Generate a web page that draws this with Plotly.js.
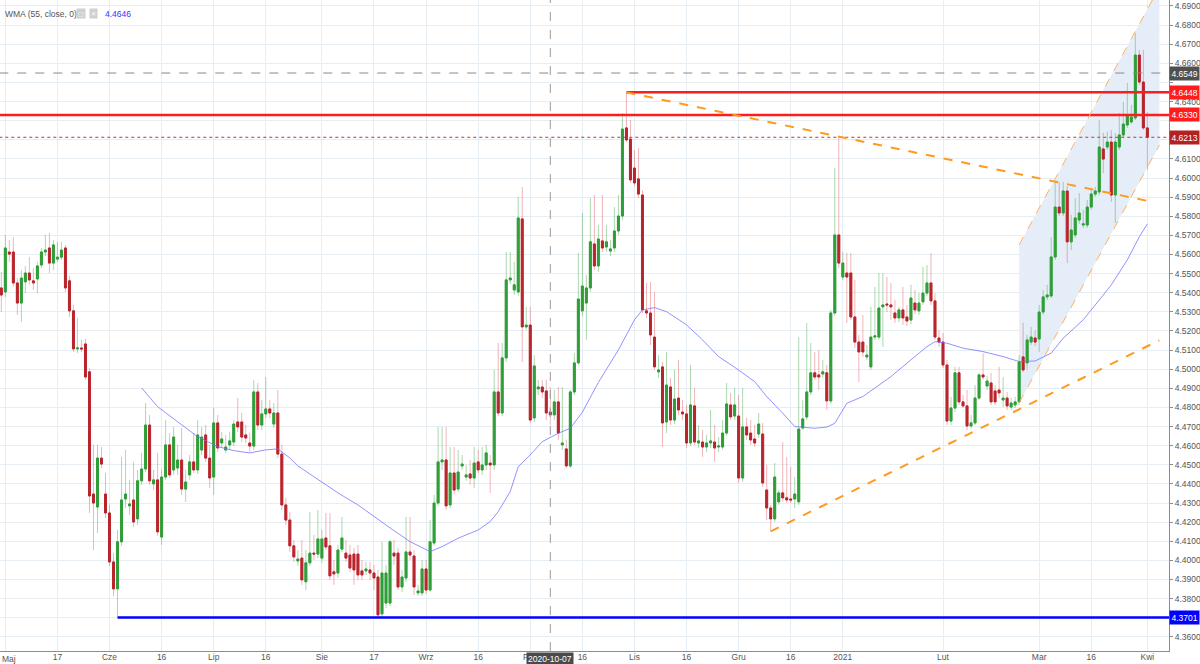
<!DOCTYPE html>
<html><head><meta charset="utf-8">
<script src="https://cdn.plot.ly/plotly-3.0.1.min.js"></script>
<style>html,body{margin:0;padding:0;background:#fff}#chart{width:1200px;height:664px}</style>
</head><body><div id="chart"></div>
<script>
// ---------- DATA ----------
const firstDay = '2020-04-30';
const lastDay = '2021-04-07';           // includes a few future (empty) days for drawings
const closedDays = ['2020-12-25', '2021-01-01'];

const open = [
4.5425,4.5404,4.5613,4.5613,4.5451,4.5346,4.5457,4.5503,4.5462,4.5472,
4.5545,4.5613,4.5634,4.5555,4.5576,4.5586,4.5634,4.5462,4.5305,4.5106,
4.5111,4.5132,4.4986,4.4347,4.4279,4.4535,4.4347,4.4248,4.3992,4.3851,
4.4097,4.4321,4.4285,4.4316,4.4217,4.4416,4.4478,4.4708,4.4400,4.4421,
4.4122,4.4436,4.4604,4.4473,4.4483,4.4525,4.4373,4.4447,4.4515,4.4473,
4.4577,4.4656,4.4535,4.4436,4.4719,4.4614,4.4577,4.4604,4.4619,4.4724,
4.4724,4.4656,4.4614,4.4598,4.4881,4.4708,4.4766,4.4792,4.4713,4.4771,
4.4556,4.4290,4.4211,4.4076,4.3997,4.4012,4.3888,4.3987,4.4038,4.4033,
4.4012,4.4117,4.4076,4.3940,4.3934,4.4059,4.4038,4.4028,4.4033,4.4033,
4.3945,4.3945,4.3950,4.3934,4.3913,4.3720,4.3777,4.3777,4.4038,4.4038,
4.3861,4.3908,4.4044,4.4023,4.3830,4.3830,4.3955,4.3845,4.4091,4.4300,
4.4515,4.4525,4.4290,4.4457,4.4373,4.4494,4.4436,4.4452,4.4431,4.4515,
4.4473,4.4499,4.4509,4.4499,4.4881,4.4771,4.5059,4.5467,4.5414,4.5404,
4.5786,4.5221,4.5231,4.4745,4.4897,4.4907,4.4886,4.4776,4.4761,4.4829,
4.4604,4.4583,4.4494,4.4881,4.5033,4.5305,4.5346,4.5425,4.5655,4.5540,
4.5671,4.5639,4.5618,4.5634,4.5723,4.5801,4.6262,4.6204,4.6052,4.5995,
4.5911,4.5305,4.5294,4.5168,4.4986,4.5012,4.4724,4.4907,4.4734,4.4849,
4.4776,4.4766,4.4614,4.4808,4.4614,4.4619,4.4593,4.4614,4.4619,4.4593,
4.4593,4.4666,4.4813,4.4755,4.4755,4.4431,4.4698,4.4666,4.4635,4.4661,
4.4661,4.4368,4.4274,4.4217,4.4306,4.4353,4.4327,4.4321,4.4321,4.4306,
4.4692,4.4750,4.4881,4.4981,4.4970,4.4975,4.4981,4.4834,4.5294,4.5702,
4.5482,4.5503,4.5503,4.5273,4.5142,4.5142,4.5064,4.5012,4.5168,4.5168,
4.5326,4.5341,4.5336,4.5294,4.5268,4.5310,4.5273,4.5257,4.5346,4.5305,
4.5352,4.5398,4.5451,4.5357,4.5163,4.5142,4.5022,4.4729,4.4797,4.4981,
4.4829,4.4808,4.4703,4.4719,4.4849,4.4970,4.4912,4.4928,4.4886,4.4891,
4.4839,4.4849,4.4802,4.4813,4.4829,4.5064,4.5033,4.5142,4.5163,4.5158,
4.5299,4.5378,4.5383,4.5587,4.5848,4.5817,4.5932,4.5666,4.5702,4.5780,
4.5754,4.5754,4.5848,4.5916,4.5927,4.6152,4.6162,4.6188,4.5911,4.6162,
4.6225,4.6277,4.6293,4.6314,4.6643,4.6502,4.6262];

const high = [
4.5509,4.5702,4.5676,4.5691,4.5477,4.5519,4.5540,4.5586,4.5529,4.5561,
4.5634,4.5702,4.5712,4.5676,4.5666,4.5666,4.5650,4.5488,4.5336,4.5268,
4.5153,4.5158,4.5006,4.4604,4.4604,4.4593,4.4457,4.4290,4.4038,4.4159,
4.4541,4.4577,4.4421,4.4515,4.4473,4.4562,4.4823,4.4761,4.4473,4.4562,
4.4473,4.4734,4.4666,4.4698,4.4604,4.4692,4.4473,4.4551,4.4666,4.4734,
4.4698,4.4708,4.4604,4.4797,4.4761,4.4671,4.4656,4.4671,4.4734,4.4849,
4.4771,4.4708,4.4666,4.4944,4.4928,4.4839,4.4959,4.4839,4.4823,4.4891,
4.4604,4.4327,4.4253,4.4107,4.4054,4.4107,4.4054,4.4253,4.4133,4.4264,
4.4159,4.4248,4.4248,4.4002,4.4081,4.4227,4.4107,4.4081,4.4065,4.4081,
4.4002,4.3992,4.3992,4.3976,4.3950,4.4097,4.3976,4.4107,4.4107,4.4065,
4.3950,4.4227,4.4227,4.4054,4.3872,4.4002,4.4002,4.4211,4.4342,4.4698,
4.4698,4.4698,4.4593,4.4593,4.4577,4.4551,4.4499,4.4525,4.4593,4.4577,
4.4593,4.4604,4.4551,4.4996,4.5137,4.5137,4.5613,4.5613,4.5561,4.5901,
4.5953,4.5326,4.5326,4.5074,4.4944,4.4944,4.4944,4.4907,4.4891,4.4907,
4.4907,4.4630,4.4891,4.5084,4.5608,4.5817,4.5493,4.5895,4.5911,4.5754,
4.5911,4.5754,4.5676,4.5848,4.5911,4.6340,4.6448,4.6303,4.6146,4.6157,
4.5937,4.5451,4.5456,4.5404,4.5074,4.5038,4.5090,4.4954,4.4996,4.5048,
4.4839,4.4813,4.5022,4.4902,4.4708,4.4682,4.4656,4.4787,4.4708,4.4645,
4.4734,4.4928,4.4876,4.4902,4.4865,4.4902,4.4745,4.4734,4.4708,4.4771,
4.4719,4.4499,4.4290,4.4509,4.4368,4.4619,4.4541,4.4489,4.4436,4.5168,
4.4839,4.5242,4.5137,4.5090,4.5100,4.5048,4.5022,4.5310,4.6052,4.6213,
4.5613,4.5608,4.5608,4.5467,4.5179,4.5284,4.5127,4.5326,4.5430,4.5503,
4.5503,4.5482,4.5451,4.5362,4.5326,4.5430,4.5336,4.5441,4.5414,4.5398,
4.5535,4.5545,4.5608,4.5398,4.5205,4.5189,4.5048,4.4855,4.5012,4.5012,
4.4865,4.4891,4.4761,4.4917,4.4981,4.5084,4.4965,4.4981,4.4917,4.5012,
4.4959,4.4881,4.4849,4.4855,4.5074,4.5242,4.5179,4.5221,4.5205,4.5336,
4.5414,4.5441,4.5691,4.5979,4.5979,4.5979,4.5958,4.5807,4.5895,4.5921,
4.5833,4.5885,4.5948,4.5953,4.6303,4.6236,4.6241,4.6251,4.6235,4.6340,
4.6398,4.6497,4.6382,4.6758,4.6670,4.6670,4.6345];

const low = [
4.5300,4.5377,4.5561,4.5430,4.5284,4.5247,4.5398,4.5441,4.5414,4.5398,
4.5529,4.5592,4.5503,4.5519,4.5561,4.5571,4.5404,4.5273,4.5090,4.5084,
4.5090,4.4944,4.4248,4.4054,4.4143,4.4483,4.4222,4.3971,4.3814,4.3701,
4.4076,4.4274,4.4238,4.4175,4.4185,4.4395,4.4463,4.4395,4.4368,4.4128,
4.4081,4.4421,4.4431,4.4447,4.4447,4.4342,4.4306,4.4421,4.4457,4.4452,
4.4551,4.4515,4.4379,4.4342,4.4567,4.4588,4.4562,4.4577,4.4598,4.4671,
4.4619,4.4614,4.4567,4.4577,4.4682,4.4682,4.4745,4.4745,4.4692,4.4535,
4.4264,4.4185,4.4044,4.3992,4.3971,4.3872,4.3845,4.3971,4.4002,4.4012,
4.3987,4.4054,4.3898,4.3872,4.3908,4.4044,4.3992,4.3940,4.3872,4.3898,
4.3898,4.3924,4.3898,4.3845,4.3704,4.3704,4.3751,4.3762,4.3976,4.3845,
4.3835,4.3887,4.4002,4.3819,4.3814,4.3814,4.3824,4.3835,4.4076,4.4285,
4.4473,4.4264,4.4274,4.4347,4.4358,4.4473,4.4416,4.4395,4.4379,4.4457,
4.4447,4.4473,4.4353,4.4473,4.4755,4.4755,4.5038,4.5446,4.5388,4.5383,
4.5038,4.5205,4.4719,4.4724,4.4865,4.4849,4.4734,4.4708,4.4734,4.4630,
4.4577,4.4483,4.4483,4.4865,4.5022,4.5279,4.5153,4.5404,4.5519,4.5509,
4.5613,4.5613,4.5592,4.5613,4.5702,4.5780,4.6188,4.5974,4.5958,4.5895,
4.5294,4.5268,4.5127,4.4996,4.4954,4.4593,4.4666,4.4708,4.4713,4.4761,
4.4734,4.4588,4.4598,4.4604,4.4588,4.4541,4.4567,4.4588,4.4515,4.4567,
4.4577,4.4651,4.4734,4.4734,4.4405,4.4410,4.4630,4.4604,4.4593,4.4640,
4.4384,4.4211,4.4152,4.4201,4.4290,4.4306,4.4300,4.4300,4.4274,4.4290,
4.4682,4.4734,4.4865,4.4944,4.4891,4.4954,4.4787,4.4818,4.5279,4.5529,
4.5467,4.5242,4.5257,4.5111,4.4933,4.5064,4.5048,4.4996,4.5153,4.5153,
4.5116,4.5299,4.5257,4.5242,4.5247,4.5231,4.5226,4.5236,4.5289,4.5284,
4.5336,4.5383,4.5336,4.5153,4.5116,4.5006,4.4708,4.4708,4.4776,4.4813,
4.4797,4.4682,4.4692,4.4708,4.4839,4.4944,4.4891,4.4813,4.4813,4.4849,
4.4802,4.4787,4.4787,4.4797,4.4813,4.4986,4.4996,4.5127,4.5121,4.5090,
4.5284,4.5362,4.5373,4.5571,4.5801,4.5801,4.5555,4.5623,4.5686,4.5760,
4.5739,4.5739,4.5833,4.5901,4.5911,4.6026,4.6146,4.5875,4.5765,4.6146,
4.6209,4.6262,4.6283,4.6303,4.6486,4.6251,4.6042];

const close = [
4.5388,4.5634,4.5602,4.5451,4.5346,4.5477,4.5503,4.5467,4.5451,4.5540,
4.5613,4.5623,4.5555,4.5650,4.5586,4.5623,4.5425,4.5305,4.5106,4.5111,
4.5106,4.4959,4.4337,4.4300,4.4535,4.4504,4.4248,4.3992,4.3851,4.4097,
4.4316,4.4347,4.4295,4.4201,4.4416,4.4478,4.4708,4.4416,4.4421,4.4149,
4.4436,4.4604,4.4447,4.4645,4.4525,4.4373,4.4410,4.4515,4.4473,4.4656,
4.4645,4.4535,4.4431,4.4719,4.4588,4.4635,4.4593,4.4625,4.4713,4.4698,
4.4645,4.4640,4.4598,4.4881,4.4708,4.4766,4.4792,4.4771,4.4771,4.4556,
4.4290,4.4211,4.4076,4.4018,4.4007,4.3898,4.3987,4.4038,4.4033,4.4112,
4.4112,4.4070,4.3919,4.3929,4.4054,4.4117,4.4012,4.3960,4.3950,4.3924,
4.3924,4.3955,4.3934,4.3908,4.3715,4.3934,4.3934,4.4097,4.4023,4.3861,
4.3913,4.4044,4.4028,4.3861,4.3840,4.3955,4.3845,4.4097,4.4300,4.4515,
4.4525,4.4285,4.4457,4.4368,4.4462,4.4504,4.4447,4.4431,4.4509,4.4473,
4.4499,4.4562,4.4499,4.4881,4.4771,4.5059,4.5467,4.5477,4.5441,4.5791,
4.5221,4.5231,4.4734,4.5017,4.4907,4.4881,4.4771,4.4761,4.4829,4.4666,
4.4614,4.4494,4.4881,4.5033,4.5367,4.5435,4.5425,4.5666,4.5540,4.5681,
4.5634,4.5666,4.5629,4.5723,4.5801,4.6256,4.6199,4.5990,4.5974,4.5916,
4.5310,4.5294,4.5179,4.5012,4.4996,4.4719,4.4917,4.4734,4.4844,4.4787,
4.4766,4.4614,4.4813,4.4619,4.4625,4.4593,4.4614,4.4625,4.4588,4.4598,
4.4666,4.4818,4.4750,4.4813,4.4431,4.4698,4.4656,4.4630,4.4614,4.4713,
4.4405,4.4274,4.4217,4.4436,4.4353,4.4327,4.4316,4.4316,4.4347,4.4687,
4.4740,4.4881,4.4981,4.4959,4.4959,4.4986,4.4834,4.5294,4.5702,4.5555,
4.5555,4.5482,4.5273,4.5142,4.5090,4.5090,4.5074,4.5168,4.5174,4.5320,
4.5336,4.5336,4.5326,4.5268,4.5310,4.5268,4.5252,4.5372,4.5310,4.5346,
4.5398,4.5451,4.5357,4.5168,4.5142,4.5022,4.4729,4.4797,4.4981,4.4829,
4.4808,4.4703,4.4719,4.4849,4.4970,4.4959,4.4938,4.4829,4.4829,4.4876,
4.4849,4.4808,4.4823,4.4829,4.5038,4.4996,4.5153,4.5168,4.5142,4.5299,
4.5378,4.5388,4.5587,4.5848,4.5817,4.5932,4.5666,4.5728,4.5791,4.5817,
4.5760,4.5848,4.5916,4.5932,4.6162,4.6099,4.6188,4.5911,4.6188,4.6225,
4.6282,4.6330,4.6319,4.6643,4.6502,4.6262,4.6213];

// WMA (55, close)
const wmaDates = ['2020-06-10','2020-06-15','2020-06-22','2020-06-26','2020-07-02','2020-07-07','2020-07-12','2020-07-16',
'2020-07-20','2020-07-23','2020-07-26','2020-08-02','2020-08-06','2020-08-12','2020-08-18','2020-08-21','2020-08-27',
'2020-09-02','2020-09-06','2020-09-10','2020-09-16','2020-09-20','2020-09-22','2020-09-25','2020-09-28','2020-10-01',
'2020-10-05','2020-10-09','2020-10-13','2020-10-16','2020-10-21','2020-10-27','2020-11-01','2020-11-03','2020-11-06',
'2020-11-10','2020-11-16','2020-11-20','2020-11-25','2020-11-30','2020-12-06','2020-12-09','2020-12-14','2020-12-17',
'2020-12-23','2020-12-28','2020-12-30','2021-01-04','2021-01-08','2021-01-13','2021-01-17','2021-01-22','2021-01-27',
'2021-01-29','2021-02-02','2021-02-07','2021-02-12','2021-02-18','2021-02-23','2021-02-28','2021-03-04','2021-03-08',
'2021-03-14','2021-03-18','2021-03-22','2021-03-26','2021-03-30','2021-04-01'];
const wmaValues = [4.4902,4.4804,4.4709,4.4647,4.4595,4.4574,4.4562,4.4578,
4.4583,4.4536,4.4494,4.4412,4.4353,4.4290,4.4212,4.4170,4.4098,
4.4046,4.4072,4.4116,4.4159,4.4203,4.4255,4.4360,4.4490,4.4552,
4.4621,4.4665,4.4691,4.4775,4.4931,4.5101,4.5258,4.5310,4.5322,
4.5301,4.5232,4.5153,4.5066,4.5010,4.4935,4.4857,4.4770,4.4700,
4.4691,4.4697,4.4717,4.4822,4.4857,4.4918,4.4961,4.5049,4.5118,
4.5144,4.5136,4.5110,4.5092,4.5066,4.5040,4.5043,4.5084,4.5162,
4.5258,4.5362,4.5441,4.5572,4.5693,4.5760];
const wmaLabel = 'WMA (55, close, 0)';
const wmaCursorValue = '4.4646';

// x-axis labels (the first one is drawn flush with the left edge, as in the original)
const tickDates = ['2020-05-01','2020-05-17','2020-06-01','2020-06-16','2020-07-01','2020-07-16','2020-08-02','2020-08-17',
'2020-09-01','2020-09-16','2020-10-01','2020-10-16','2020-11-01','2020-11-16','2020-12-01','2020-12-16','2021-01-03',
'2021-02-01','2021-03-01','2021-03-16','2021-04-01'];
const tickLabels = ['Maj','17','Cze','16','Lip','16','Sie','17','Wrz','16','Paź','16','Lis','16','Gru','16','2021',
'Lut','Mar','16','Kwi'];

// y-axis price ticks (4.3600 ... 4.6900); those hidden behind price boxes are left blank
const priceTicks = [4.36,4.37,4.38,4.39,4.40,4.41,4.42,4.43,4.44,4.45,4.46,4.47,4.48,4.49,4.50,4.51,4.52,
4.53,4.54,4.55,4.56,4.57,4.58,4.59,4.60,4.61,4.62,4.63,4.64,4.65,4.66,4.67,4.68,4.69];
const hiddenTicks = [4.37, 4.62, 4.63, 4.65];

// drawn levels and lines
const levelPrices = [4.6549, 4.6448, 4.6330, 4.6213, 4.3701];
const levelStart  = [null, '2020-10-29', null, null, '2020-06-03'];
const crosshairDate = '2020-10-07';
const trendDown = {d0:'2020-10-29', p0:4.6448, d1:'2021-04-02', p1:4.5876};
const trendUp   = {d0:'2020-12-10', p0:4.4152, d1:'2021-04-05', p1:4.5151};
const channel   = {d0:'2021-02-23', d1:'2021-04-05', lo0:4.4824, lo1:4.6172, up0:4.5650, up1:4.6998};

// ---------- BUILD ----------
function buildDates(start, end, closed){
  const out=[]; const DAY=86400000;
  let t=Date.parse(start+'T00:00:00Z'); const e=Date.parse(end+'T00:00:00Z');
  for(; t<=e; t+=DAY){
    const d=new Date(t); if(d.getUTCDay()===6) continue;
    const s=d.toISOString().slice(0,10); if(closed.includes(s)) continue;
    out.push(s);
  }
  return out;
}
const allDates = buildDates(firstDay, lastDay, closedDays);
const dates = allDates.slice(0, open.length);
const xi = d => allDates.indexOf(d);

const GREEN='#2f9e38', RED='#b8252c';
const bodyHigh = open.map((o,i)=>Math.max(o,close[i]));
const bodyLow  = open.map((o,i)=>Math.min(o,close[i]));

const traces = [
  {type:'candlestick', x:dates, open:open, high:high, low:low, close:close,
   increasing:{line:{color:'rgba(47,158,56,0.40)', width:1}, fillcolor:'rgba(47,158,56,0.40)'},
   decreasing:{line:{color:'rgba(215,50,60,0.36)', width:1}, fillcolor:'rgba(215,50,60,0.36)'},
   whiskerwidth:0, hoverinfo:'skip', showlegend:false},
  {type:'candlestick', x:dates, open:open, high:bodyHigh, low:bodyLow, close:close,
   increasing:{line:{color:GREEN, width:1}, fillcolor:GREEN},
   decreasing:{line:{color:RED, width:1}, fillcolor:RED},
   whiskerwidth:0, hoverinfo:'skip', showlegend:false},
  {type:'scatter', mode:'lines', x:wmaDates, y:wmaValues, line:{color:'rgba(110,110,255,0.75)', width:1},
   hoverinfo:'skip', showlegend:false}
];

const FAR = allDates.length + 5;
const levelStyles = [
  {color:'#8a8a8a', width:1, dash:'dash'},
  {color:'#ff1c1c', width:2.5, dash:'solid'},
  {color:'#ff1c1c', width:2.5, dash:'solid'},
  {color:'#c0392b', width:1, dash:'dot'},
  {color:'#0000ff', width:2.5, dash:'solid'}
];
const labelBg = ['#505050','#ff1c1c','#ff1c1c','#b22222','#0000ff'];

const shapes = [];
shapes.push({type:'path', xref:'x', yref:'y', layer:'below',
  path:`M ${xi(channel.d0)},${channel.lo0} L ${xi(channel.d1)},${channel.lo1} L ${xi(channel.d1)},${channel.up1} L ${xi(channel.d0)},${channel.up0} Z`,
  fillcolor:'rgba(120,165,220,0.2)', line:{width:0}});
levelPrices.forEach((p,i)=>{
  const s = levelStart[i];
  shapes.push({type:'line', xref:'x', yref:'y', layer:'above',
    x0: s ? xi(s) : -5, x1: FAR, y0:p, y1:p, line:levelStyles[i]});
});
shapes.push({type:'line', xref:'x', yref:'paper', layer:'above', x0:xi(crosshairDate), x1:xi(crosshairDate), y0:0, y1:1,
  line:{color:'#9a9a9a', width:1, dash:'dash'}});
[trendDown, trendUp].forEach(t=>{
  shapes.push({type:'line', xref:'x', yref:'y', layer:'above', x0:xi(t.d0), y0:t.p0, x1:xi(t.d1), y1:t.p1,
    line:{color:'#ff9a1f', width:2, dash:'dash'}});
});
shapes.push({type:'line', xref:'x', yref:'y', layer:'above', x0:xi(channel.d0), y0:channel.lo0, x1:xi(channel.d1), y1:channel.lo1,
  line:{color:'#ffb060', width:1, dash:'dash'}});
shapes.push({type:'line', xref:'x', yref:'y', layer:'above', x0:xi(channel.d0), y0:channel.up0, x1:xi(channel.d1), y1:channel.up1,
  line:{color:'#ffb060', width:1, dash:'dash'}});

const FONT = 'Liberation Sans, Arial, sans-serif';
const annotations = [];
levelPrices.forEach((p,i)=>{
  annotations.push({xref:'paper', yref:'y', x:1, y:p, xanchor:'left', yanchor:'middle', showarrow:false,
    text:p.toFixed(4), font:{family:FONT, size:8.5, color:'#ffffff'}, bgcolor:labelBg[i], borderpad:1.5, xshift:0});
});
annotations.push({xref:'x', yref:'paper', x:xi(crosshairDate), y:0, xanchor:'center', yanchor:'top', yshift:-1,
  showarrow:false, text:crosshairDate, font:{family:FONT, size:8.5, color:'#ffffff'}, bgcolor:'#4a4a4a', borderpad:1});
// first x label kept inside the page
annotations.push({xref:'paper', yref:'paper', x:0, y:0, xanchor:'left', yanchor:'top', yshift:-1, xshift:0,
  showarrow:false, text:tickLabels[0], font:{family:FONT, size:8.5, color:'#555555'}});
annotations.push({xref:'paper', yref:'paper', x:0.0025, y:0.9785, xanchor:'left', yanchor:'middle', showarrow:false,
  text:wmaLabel, font:{family:FONT, size:8.5, color:'#555555'}});
annotations.push({xref:'paper', yref:'paper', x:0.0693, y:0.9785, xanchor:'center', yanchor:'middle', showarrow:false,
  text:'□', font:{family:'DejaVu Sans', size:6, color:'#ffffff'}, bgcolor:'#cfcfcf', borderpad:1});
annotations.push({xref:'paper', yref:'paper', x:0.0796, y:0.9785, xanchor:'center', yanchor:'middle', showarrow:false,
  text:'✕', font:{family:'DejaVu Sans', size:6, color:'#ffffff'}, bgcolor:'#cfcfcf', borderpad:1});
annotations.push({xref:'paper', yref:'paper', x:0.0881, y:0.9785, xanchor:'left', yanchor:'middle', showarrow:false,
  text:wmaCursorValue, font:{family:FONT, size:8.5, color:'#3535ff'}});

const layout = {
  width:1200, height:664, margin:{l:0, r:31, t:0, b:13, pad:0},
  paper_bgcolor:'#ffffff', plot_bgcolor:'#ffffff', showlegend:false, hovermode:false, dragmode:false,
  xaxis:{type:'category', range:[-0.33, 291.4], rangeslider:{visible:false}, tickmode:'array',
    tickvals:tickDates, ticktext:tickLabels.map((t,i)=> i===0 ? '' : t), tickangle:0,
    showgrid:true, gridcolor:'#e6edf3', gridwidth:1,
    showline:true, linecolor:'#8c8c8c', linewidth:1, ticks:'', ticklabelstandoff:-2,
    tickfont:{family:FONT, size:8.5, color:'#555555'}, zeroline:false, fixedrange:true, automargin:false},
  yaxis:{side:'right', range:[4.3526, 4.6931], tickmode:'array', tickvals:priceTicks,
    ticktext:priceTicks.map(v => hiddenTicks.some(h => Math.abs(h - v) < 1e-9) ? '' : v.toFixed(4)),
    showgrid:true, gridcolor:'#e6edf3', gridwidth:1, showline:true, linecolor:'#8c8c8c', linewidth:1,
    ticks:'outside', ticklen:3, tickcolor:'#8c8c8c', tickfont:{family:FONT, size:8.5, color:'#555555'},
    zeroline:false, fixedrange:true, automargin:false},
  shapes:shapes, annotations:annotations
};

Plotly.newPlot('chart', traces, layout, {staticPlot:true, displayModeBar:false});
</script>
</body></html>
